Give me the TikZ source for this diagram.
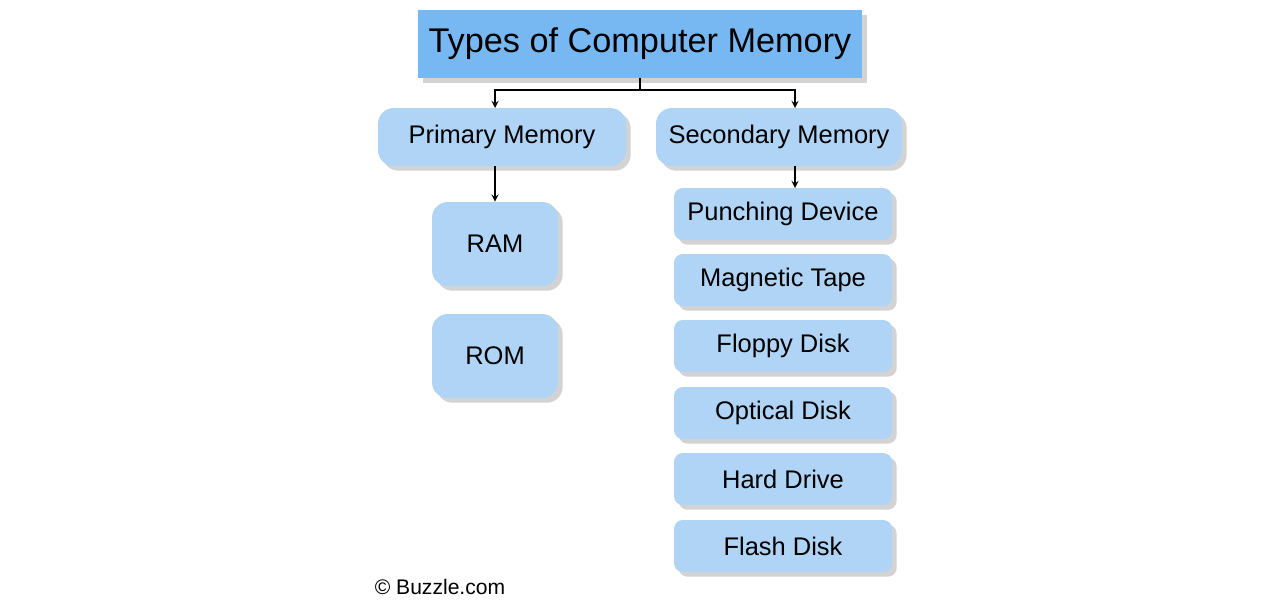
\documentclass[tikz,border=0pt]{standalone}
\usepackage{fontspec}
\setmainfont{Liberation Sans}
\usetikzlibrary{shadows}
\definecolor{titleblue}{RGB}{120,184,242}
\definecolor{boxblue}{RGB}{176,212,246}
\begin{document}
\begin{tikzpicture}[x=0.02cm, y=-0.02cm,
    mem/.style={rectangle, rounded corners=9pt, fill=boxblue, drop shadow={opacity=0.35}, inner sep=2pt, font=\fontsize{14.5}{17}\selectfont},
    arr/.style={->, >=stealth, thick}
]
\useasboundingbox (0,0) rectangle (1280,600);
% header
\node[rectangle, fill=titleblue, drop shadow={opacity=0.35}, minimum width=444*0.02cm, minimum height=68*0.02cm, font=\fontsize{19.5}{22}\selectfont] (top) at (640,44) {Types of Computer Memory};
% two kinds
\node[mem, minimum width=248*0.02cm, minimum height=58*0.02cm] (prim) at (502,137) {Primary Memory};
\node[mem, minimum width=246*0.02cm, minimum height=58*0.02cm] (sec) at (779,137) {Secondary Memory};
\coordinate (split) at (640,90);
\coordinate (pl) at (495,90);
\coordinate (sr) at (795,90);
\draw[thick] (top.south) -- (split);
\draw[arr] (split) -- (pl) -- (495,108);
\draw[arr] (split) -- (sr) -- (795,108);
% primary
\node[mem, minimum width=126*0.02cm, minimum height=84*0.02cm] (ram) at (495,244) {RAM};
\node[mem, minimum width=126*0.02cm, minimum height=84*0.02cm] (rom) at (495,356) {ROM};
\draw[arr] (prim.south -| ram.north) -- (ram.north);
% secondary
\foreach \t/\y [count=\i] in {Punching Device/214, Magnetic Tape/280, Floppy Disk/346, Optical Disk/413, Hard Drive/479, Flash Disk/546} {
    \node[mem, rounded corners=5pt, minimum width=218*0.02cm, minimum height=52*0.02cm] (s\i) at (783,\y) {\t};
}
\draw[arr] (795,166) -- (795,188);
\node[font=\fontsize{12}{14}\selectfont] (copy) at (440,587) {© Buzzle.com};
\end{tikzpicture}
\end{document}
